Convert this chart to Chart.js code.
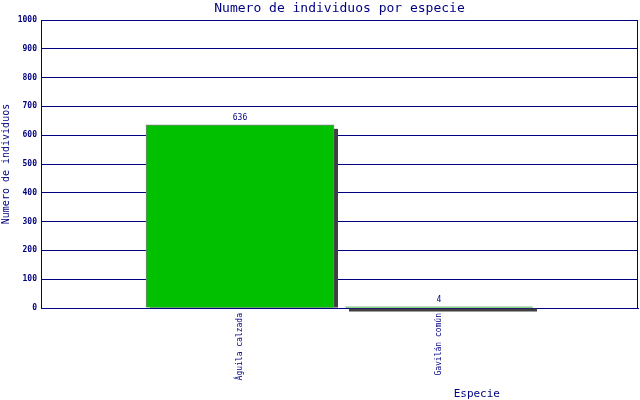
<!DOCTYPE html>
<html>
<head>
<meta charset="utf-8">
<script src="https://cdn.jsdelivr.net/npm/chart.js@4/dist/chart.umd.min.js"></script>
<style>
  html, body { margin: 0; padding: 0; background: #fff; }
  canvas { display: block; }
</style>
</head>
<body>
<canvas id="myChart" width="640" height="400"></canvas>
<script>
// data
const especies = ["", "Águila calzada", "Gavilán común", ""];
const individuos = [null, 636, 4, null];
const yTicks = [0, 100, 200, 300, 400, 500, 600, 700, 800, 900, 1000];

const navy = "#000080";
const mono = "'DejaVu Sans Mono', monospace";

// shadow behind each bar, value above it, title and frame
const extras = {
  id: "extras",
  beforeDatasetsDraw(chart) {
    const ctx = chart.ctx;
    ctx.save();
    ctx.fillStyle = "#404040";
    chart.getDatasetMeta(0).data.forEach(function (bar, i) {
      if (individuos[i] == null) return;
      const p = bar.getProps(["x", "y", "base", "width"], true);
      const top = Math.min(p.y + 4, p.base + 1);
      const bottom = Math.max(p.base, top + 3);
      ctx.fillRect(p.x - p.width / 2 + 4, top, p.width, bottom - top);
    });
    ctx.restore();
  },
  afterDatasetsDraw(chart) {
    const ctx = chart.ctx;
    const area = chart.chartArea;
    ctx.save();
    ctx.fillStyle = navy;
    ctx.font = "8px " + mono;
    ctx.textAlign = "center";
    ctx.textBaseline = "bottom";
    chart.getDatasetMeta(0).data.forEach(function (bar, i) {
      if (individuos[i] == null) return;
      const p = bar.getProps(["x", "y"], true);
      ctx.fillText(String(individuos[i]), p.x, p.y - 3);
    });
    // right edge of the frame
    ctx.strokeStyle = navy;
    ctx.lineWidth = 1;
    ctx.beginPath();
    ctx.moveTo(Math.round(area.right) - 0.5, area.top);
    ctx.lineTo(Math.round(area.right) - 0.5, area.bottom);
    ctx.stroke();
    // chart title
    ctx.font = "13px " + mono;
    ctx.textBaseline = "middle";
    ctx.fillText("Numero de individuos por especie", (area.left + area.right) / 2, 9);
    // x axis title
    ctx.font = "11px " + mono;
    ctx.fillText("Especie", area.left + (area.right - area.left) * 0.73, 394);
    ctx.restore();
  }
};

new Chart("myChart", {
  type: "bar",
  data: {
    labels: especies,
    datasets: [{
      data: individuos,
      backgroundColor: "#00c000",
      borderColor: "#808080",
      borderWidth: 1,
      barThickness: 188
    }]
  },
  options: {
    responsive: false,
    animation: false,
    devicePixelRatio: 1,
    layout: { padding: { top: 20, right: 2, left: 0, bottom: 0 } },
    plugins: {
      legend: { display: false },
      title: { display: false },
      tooltip: { enabled: false }
    },
    scales: {
      x: {
        offset: false,
        grid: { display: false, drawTicks: false },
        border: { color: navy, width: 1 },
        ticks: {
          color: navy,
          font: { family: mono, size: 8 },
          minRotation: 90,
          maxRotation: 90,
          autoSkip: false,
          padding: 5
        },
        afterFit: function (s) {
          s.height = 92;
          s.paddingLeft = 0;
          s.paddingRight = 0;
        }
      },
      y: {
        min: 0,
        max: 1000,
        afterBuildTicks: function (s) { s.ticks = yTicks.map(v => ({ value: v })); },
        grid: { color: navy, drawTicks: false, lineWidth: 1 },
        border: { color: navy, width: 1 },
        ticks: {
          color: navy,
          font: { family: mono, size: 8, weight: "bold" },
          padding: 4,
          callback: function (v) { return String(v); }
        },
        title: {
          display: true,
          text: "Numero de individuos",
          color: navy,
          font: { family: mono, size: 10 },
          padding: 0
        },
        afterFit: function (s) {
          s.width = 41;
          s.paddingTop = 0;
          s.paddingBottom = 0;
        }
      }
    }
  },
  plugins: [extras]
});
</script>
</body>
</html>
